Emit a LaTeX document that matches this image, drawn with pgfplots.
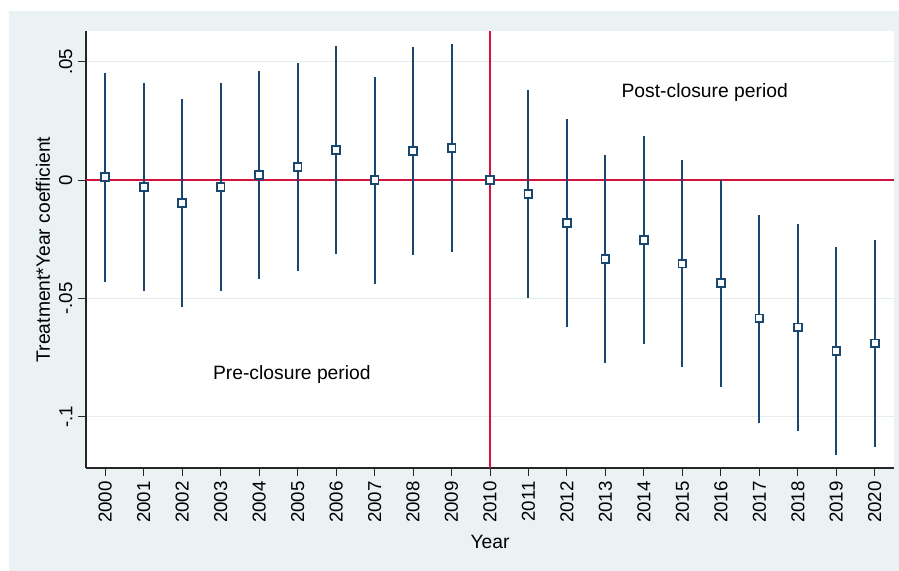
\documentclass[border=0pt]{standalone}
\usepackage{fontspec}
\setmainfont{Liberation Sans}
\usepackage{pgfplots}
\pgfplotsset{compat=1.18}
\usepackage{pgfplotstable}

\definecolor{stbg}{HTML}{EAF2F3}
\definecolor{stgrid}{HTML}{E4ECEE}
\definecolor{stnavy}{HTML}{1A476F}
\definecolor{stred}{RGB}{212,18,60}

% year, point estimate, lower and upper bound of the CI
\pgfplotstableread{
year b lo hi
2000  0.0013 -0.0431  0.0452
2001 -0.0030 -0.0470  0.0410
2002 -0.0097 -0.0538  0.0344
2003 -0.0030 -0.0470  0.0410
2004  0.0021 -0.0418  0.0460
2005  0.0055 -0.0385  0.0494
2006  0.0127 -0.0313  0.0565
2007 -0.0001 -0.0440  0.0437
2008  0.0123 -0.0316  0.0563
2009  0.0135 -0.0304  0.0573
2010  0.0000  0.0000  0.0000
2011 -0.0058 -0.0498  0.0381
2012 -0.0182 -0.0621  0.0256
2013 -0.0333 -0.0774  0.0106
2014 -0.0253 -0.0693  0.0185
2015 -0.0353 -0.0792  0.0084
2016 -0.0436 -0.0874  0.0000
2017 -0.0585 -0.1025 -0.0147
2018 -0.0623 -0.1062 -0.0185
2019 -0.0723 -0.1162 -0.0284
2020 -0.0690 -0.1130 -0.0253
}\coefs

\begin{document}
\begin{tikzpicture}[x=1bp,y=1bp]
\path[use as bounding box, fill=white] (-86,-103) rectangle (813,468);
\fill[stbg] (-77,-103) rectangle (813,457);
\begin{axis}[
  at={(0,0)}, anchor=south west,
  scale only axis, width=808bp, height=437bp,
  xmin=1999.5, xmax=2020.5,
  ymin=-0.1217, ymax=0.063,
  axis lines=left,
  axis line style={-, line width=1.1bp, black!85},
  axis background/.style={fill=white},
  tick align=outside,
  major tick length=8bp,
  tick style={black!85, line width=1bp},
  xtick={2000,2001,...,2020},
  ytick={-0.1,-0.05,0,0.05},
  yticklabels={-.1,-.05,0,.05},
  /pgf/number format/1000 sep={},
  /pgf/number format/assume math mode=true,
  ticklabel style={font=\fontsize{18.7bp}{22bp}\selectfont},
  xticklabel style={rotate=90, anchor=east, inner sep=5bp},
  yticklabel style={rotate=90, anchor=south, inner sep=5.5bp},
  ymajorgrids,
  major grid style={stgrid, line width=1.2bp},
]
\addplot[stred, line width=1.6bp] coordinates {(1999.5,0) (2020.5,0)};
\addplot[stred, line width=1.6bp] coordinates {(2010,-0.1217) (2010,0.063)};

\addplot[draw=none, mark=none,
  error bars/.cd, y dir=both, y explicit, error mark=none,
  error bar style={stnavy, line width=2bp}]
  table[x=year, y=b,
    y error plus expr=\thisrow{hi}-\thisrow{b},
    y error minus expr=\thisrow{b}-\thisrow{lo}] {\coefs};

\addplot[only marks, mark=square*, mark size=3.9bp,
  mark options={fill=white, draw=stnavy, line width=1.8bp}]
  table[x=year, y=b] {\coefs};

\node[font=\fontsize{19.3bp}{23bp}\selectfont] at (axis cs:2015.58,0.0370) {Post-closure period};
\node[font=\fontsize{19.3bp}{23bp}\selectfont] at (axis cs:2004.85,-0.0820) {Pre-closure period};
\end{axis}
\node[font=\fontsize{19.3bp}{23bp}\selectfont] at (404,-74) {Year};
\node[font=\fontsize{19.3bp}{23bp}\selectfont, rotate=90] at (-43,218.5) {Treatment*Year coefficient};
\end{tikzpicture}
\end{document}
